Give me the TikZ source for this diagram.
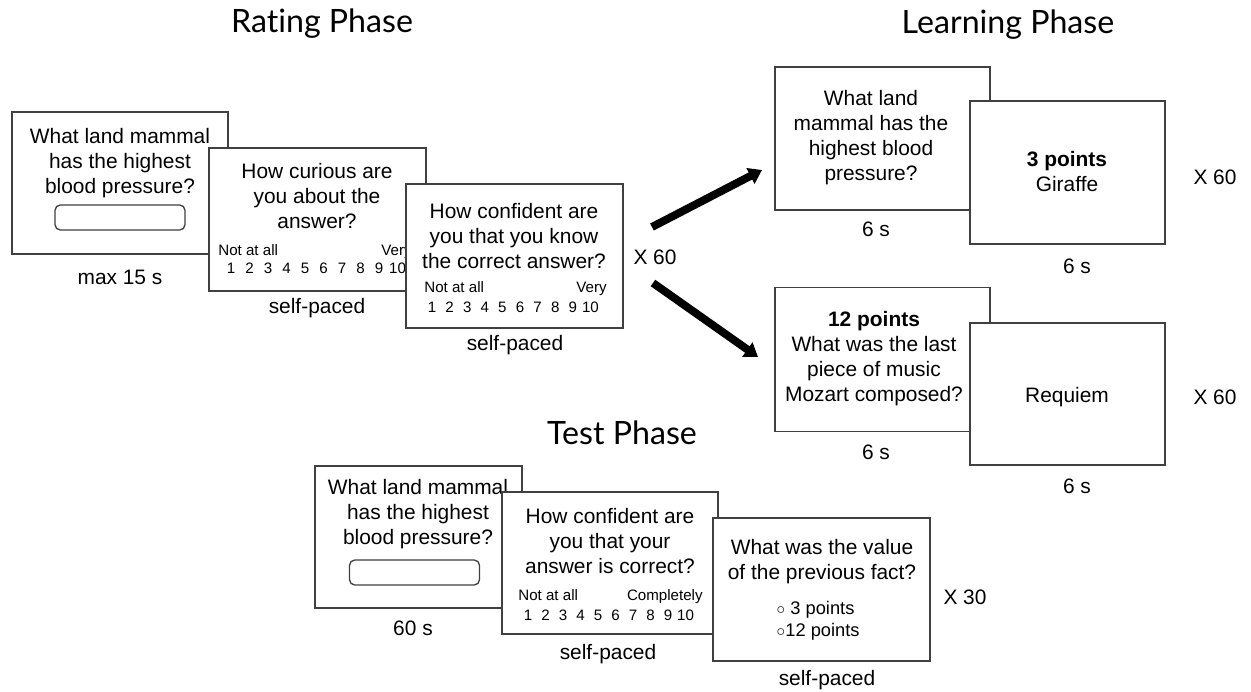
\documentclass[tikz,border=0pt]{standalone}
\usepackage{fontspec}
\setmainfont{Liberation Sans}
\newfontfamily\phasefamily[Ligatures=CommonOff]{Lato}
\usepackage{tikz}
\usetikzlibrary{arrows.meta}
\usetikzlibrary{positioning}
\tikzset{
  screen/.style = {rectangle, draw=black!75, fill=white, line width=0.75pt,
    inner sep=0pt},% ecran
  qtext/.style = {align=center, inner sep=0pt,
    font=\fontsize{11.9}{14.2}\selectfont},% question
  lbl/.style = {inner sep=0pt, font=\fontsize{11.9}{14.2}\selectfont},% duree
  scl/.style = {inner sep=0pt, font=\fontsize{8.6}{10}\selectfont},% echelle
  opt/.style = {inner sep=0pt, anchor=west,
    font=\fontsize{10.4}{12}\selectfont},% choix
  ansbox/.style = {rectangle, draw=black!75, rounded corners=3pt,
    line width=0.75pt, minimum width=2.6cm, minimum height=0.5cm},% champ
  phase/.style = {anchor=base, inner sep=0pt,
    font=\phasefamily\fontsize{18.3}{22}\selectfont},
  bigarrow/.style = {line width=4.5pt, -{Triangle[length=0.26cm,width=0.34cm]}}
}
\newcommand\optdot{{\fontsize{8.5}{9}\selectfont ○}}

\begin{document}
\begin{tikzpicture}[x=0.02cm,y=-0.02cm]
\useasboundingbox (0,0) rectangle (1251,692);

% titres
\node [phase] (ph1) at (322,33) {Rating Phase};
\node [phase] (ph2) at (1008,34) {Learning Phase};
\node [phase] (ph3) at (622,444) {Test Phase};

% rating phase
\node [screen, minimum width=4.32cm, minimum height=2.84cm] (r1) at (120,183) {};
\node [qtext] (r1q) at (120,163) {What land mammal\\has the highest\\blood pressure?};
\node [ansbox] (r1a) at (120,217.5) {};
\node [lbl] (r1d) at (120,277) {max 15 s};

\node [screen, minimum width=4.34cm, minimum height=2.86cm] (r2) at (317.5,219.5) {};
\node [qtext] (r2q) at (317,196) {How curious are\\you about the\\answer?};
\node [scl, anchor=base west] (r2lo) at (218,256) {Not at all};
\node [scl, anchor=base east] (r2hi) at (412,256) {Very};
\foreach \n in {1,...,10}
  \node [scl] (r2n\n) at ({231+18.5*(\n-1)},268) {\n};
\node [lbl] (r2d) at (317,308) {self-paced};

\node [screen, minimum width=4.34cm, minimum height=2.88cm] (r3) at (514.5,256) {};
\node [qtext] (r3q) at (514,236) {How confident are\\you that you know\\the correct answer?};
\node [scl, anchor=base west] (r3lo) at (424,293) {Not at all};
\node [scl, anchor=base east] (r3hi) at (607,293) {Very};
\foreach \n in {1,...,10}
  \node [scl] (r3n\n) at ({432+17.6*(\n-1)},307) {\n};
\node [lbl] (r3d) at (515,345) {self-paced};

\node [lbl] (rx) at (655,257) {X 60};

% fleches
\coordinate (aup0) at (652,227);
\coordinate (aup1) at (762,170);
\coordinate (adn0) at (653,283);
\coordinate (adn1) at (758,357);
\draw [bigarrow] (aup0) -- (aup1);
\draw [bigarrow] (adn0) -- (adn1);

% learning phase
\node [screen, minimum width=4.30cm, minimum height=2.86cm] (l1) at (882.5,138.5) {};
\node [qtext] (l1q) at (871,138) {What land\\mammal has the\\highest blood\\pressure?};
\node [lbl] (l1d) at (876,229) {6 s};
\node [screen, minimum width=3.90cm, minimum height=2.86cm] (l2) at (1067.5,172.5) {};
\node [qtext] (l2q) at (1067,172) {\textbf{3 points}\\Giraffe};
\node [lbl] (l2d) at (1077,266) {6 s};
\node [lbl] (lx1) at (1215,177) {X 60};

\node [screen, minimum width=4.30cm, minimum height=2.88cm] (l3) at (882.5,359.5) {};
\node [qtext] (l3q) at (874,359) {\textbf{12 points}\\What was the last\\piece of music\\Mozart composed?};
\node [lbl] (l3d) at (876,452) {6 s};
\node [screen, minimum width=3.90cm, minimum height=2.84cm] (l4) at (1067.5,394) {};
\node [qtext] (l4q) at (1067,397) {Requiem};
\node [lbl] (l4d) at (1077,486) {6 s};
\node [lbl] (lx2) at (1215,397) {X 60};

% test phase
\node [screen, minimum width=4.14cm, minimum height=2.84cm] (t1) at (418.5,537) {};
\node [qtext] (t1q) at (418,514) {What land mammal\\has the highest\\blood pressure?};
\node [ansbox] (t1a) at (414.5,572.5) {};
\node [lbl] (t1d) at (413,628) {60 s};

\node [screen, minimum width=4.32cm, minimum height=2.84cm] (t2) at (610,563) {};
\node [qtext] (t2q) at (610,541) {How confident are\\you that your\\answer is correct?};
\node [scl, anchor=base west] (t2lo) at (518,600) {Not at all};
\node [scl, anchor=base east] (t2hi) at (703,600) {Completely};
\foreach \n in {1,...,10}
  \node [scl] (t2n\n) at ({528+17.5*(\n-1)},615) {\n};
\node [lbl] (t2d) at (608,654) {self-paced};

\node [screen, minimum width=4.34cm, minimum height=2.86cm] (t3) at (821.5,589.5) {};
\node [qtext] (t3q) at (822,562) {What was the value\\of the previous fact?};
\node [opt] (t3o1) at (776,610) {\optdot\ 3 points};
\node [opt] (t3o2) at (776,632) {\optdot 12 points};
\node [lbl] (t3d) at (827,680) {self-paced};
\node [lbl] (tx) at (965,597) {X 30};
\end{tikzpicture}
\end{document}
